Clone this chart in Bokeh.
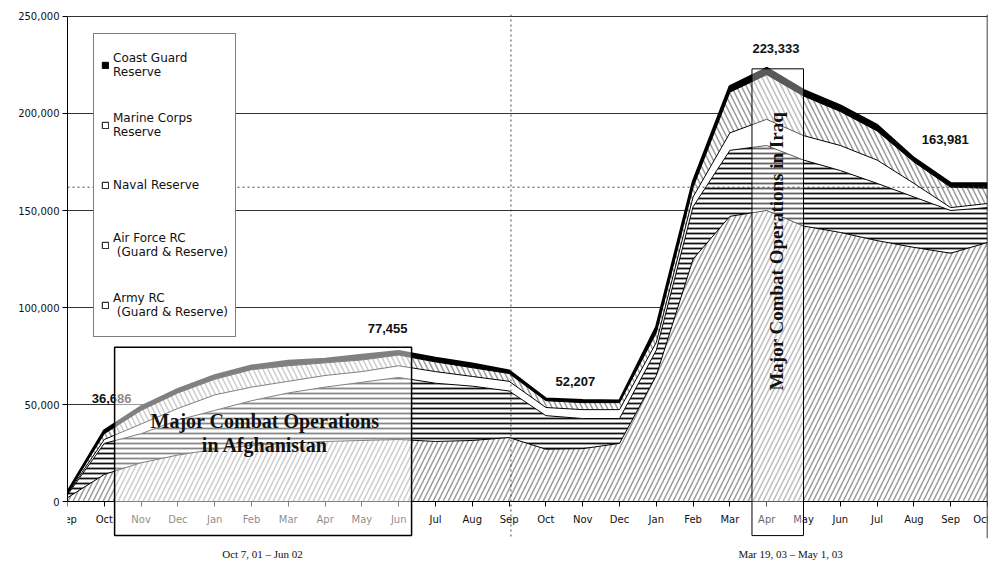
import numpy as np
from bokeh.plotting import figure
from bokeh.models import (Range1d, FixedTicker, NumeralTickFormatter, LinearAxis,
                          Span, Legend, LegendItem, ColumnDataSource)
from bokeh.embed import file_html
from bokeh.resources import INLINE
from bokeh.core.properties import value

# ---------------- data ----------------
months = ["Sep", "Oct", "Nov", "Dec", "Jan", "Feb", "Mar", "Apr", "May", "Jun", "Jul", "Aug",
          "Sep", "Oct", "Nov", "Dec", "Jan", "Feb", "Mar", "Apr", "May", "Jun", "Jul", "Aug",
          "Sep", "Oct"]

army = [2000, 14000, 20000, 24000, 27000, 29000, 30000, 31000, 31500, 32000, 31000, 31500,
        33000, 27000, 27300, 30000, 65000, 125000, 147000, 150000, 142000, 138700, 134500,
        131000, 128000, 133500]
air_force = [1500, 16000, 15000, 18000, 20000, 23000, 26000, 28000, 30000, 32000, 30000, 28000,
             24000, 17300, 15500, 12800, 13000, 27000, 34000, 33500, 34000, 31900, 29500,
             26000, 22000, 18000]
naval = [500, 2000, 5000, 6000, 8000, 7000, 6000, 6000, 5500, 6000, 6000, 5000,
         5000, 4200, 4600, 4600, 4000, 5000, 9000, 13500, 12600, 12900, 12000,
         7000, 1500, 2100]
marine = [500, 3000, 7000, 8000, 8000, 9000, 8000, 6500, 6000, 5500, 5000, 4500,
          4000, 3500, 3600, 3600, 5000, 5000, 21000, 23000, 20400, 17500, 15000,
          11000, 10500, 7900]
coast_guard = [500, 1686, 2000, 2000, 2000, 2000, 2500, 2000, 2500, 1955, 2000, 2000,
               1500, 1000, 1207, 1000, 3000, 3000, 3000, 3333, 3000, 3000, 3000,
               2000, 2000, 2481]

series_names = ["Army RC\n (Guard & Reserve)", "Air Force RC\n (Guard & Reserve)",
                "Naval Reserve", "Marine Corps\nReserve", "Coast Guard\nReserve"]

peak_labels = ["36,686", "77,455", "52,207", "223,333", "163,981"]
peak_month = [1.2, 8.7, 13.8, 19.25, 23.85]
peak_label_y = [53000, 89000, 62000, 233500, 186500]

afg_period = (1.28, 9.35)      # Oct 7, 01 - Jun 02 (month index)
iraq_period = (18.6, 20.0)     # Mar 19, 03 - May 1, 03
period_texts = {5.3: "Oct 7, 01 \u2013 Jun 02", 19.65: "Mar 19, 03 \u2013 May 1, 03"}

x = list(range(len(months)))
src = ColumnDataSource(dict(x=x, army=army, af=air_force, naval=naval,
                            marine=marine, cg=coast_guard))
cum = np.cumsum(np.array([army, air_force, naval, marine, coast_guard], dtype=float), axis=0)

# ---------------- figure ----------------
p = figure(width=990, height=564, output_backend="svg", toolbar_location=None,
           x_range=Range1d(0, len(months) - 1), y_range=Range1d(-19000, 251000),
           min_border_left=67, min_border_right=3, min_border_top=14, min_border_bottom=26)
p.outline_line_color = None
p.background_fill_color = "white"

yt = [0, 50000, 100000, 150000, 200000, 250000]
p.ygrid.ticker = FixedTicker(ticks=yt)
p.ygrid.grid_line_color = "#333333"
p.ygrid.grid_line_width = 1
p.xgrid.grid_line_color = None

# y axis
ya = p.yaxis[0]
ya.ticker = FixedTicker(ticks=yt)
ya.formatter = NumeralTickFormatter(format="0,0")
ya.bounds = (0, 250000)
ya.major_label_text_font = "DejaVu Sans"
ya.major_label_text_font_size = "10px"
ya.major_label_text_color = "#111111"
ya.major_tick_out = 5
ya.major_tick_in = 0
ya.minor_tick_line_color = None
ya.axis_line_color = "black"
ya.major_label_standoff = 3

# x axis at y=0
xa = p.xaxis[0]
xa.fixed_location = 0
xa.ticker = FixedTicker(ticks=x)
xa.major_label_overrides = {i: m for i, m in enumerate(months)}
xa.major_label_text_font = "DejaVu Sans"
xa.major_label_text_font_size = "10px"
xa.major_label_text_color = "#111111"
xa.major_tick_out = 5
xa.major_tick_in = 0
xa.minor_tick_line_color = None
xa.major_label_standoff = 7

# period labels axis
pa = LinearAxis(ticker=FixedTicker(ticks=list(period_texts.keys())),
                major_label_overrides=period_texts)
pa.axis_line_color = None
pa.major_tick_line_color = None
pa.minor_tick_line_color = None
pa.major_tick_out = 0
pa.major_tick_in = 0
pa.major_label_standoff = 9
pa.major_label_text_font = "Liberation Serif"
pa.major_label_text_font_size = "11px"
pa.major_label_text_color = "#111111"
p.add_layout(pa, "below")

# ---------------- stacked areas ----------------
p.varea_stack(stackers=["army", "af", "naval", "marine", "cg"], x="x", source=src,
              fill_color=["white", "white", "white", "white", "black"],
              hatch_pattern=["/", "-", " ", "\\", " "],
              hatch_color=["#9a9a9a", "#111111", "white", "#9a9a9a", "black"],
              hatch_scale=[10, 5, 7, 10, 7],
              hatch_weight=[1.5, 1.8, 1, 1.5, 1])

for k in range(5):
    p.line(x, cum[k], line_color="black", line_width=2.5 if k == 4 else 1)

# peak labels (under the boxes)
p.text(x=peak_month, y=peak_label_y, text=peak_labels, text_font=value("Liberation Sans"),
       text_font_style="bold", text_font_size="13px", text_align="center",
       text_baseline="middle", text_color="#111111")

# ---------------- boxes ----------------
p.quad(left=[afg_period[0]], right=[afg_period[1]], bottom=[-17500], top=[79500],
       fill_color="white", fill_alpha=0.5, line_color="black", line_width=1.5, level="overlay")
p.quad(left=[iraq_period[0]], right=[iraq_period[1]], bottom=[-17500], top=[223000],
       fill_color="white", fill_alpha=0.35, line_color="black", line_width=1, level="overlay")

# reference dotted lines
p.add_layout(Span(location=162000, dimension="width", line_color="#444444",
                  line_dash="2 3", line_width=1, level="overlay"))
p.add_layout(Span(location=12.05, dimension="height", line_color="#444444",
                  line_dash="2 3", line_width=1, level="overlay"))
p.add_layout(Span(location=len(months) - 1, dimension="height", line_color="black",
                  line_width=1.5))

# ---------------- texts ----------------
p.text(x=[(afg_period[0] + afg_period[1]) / 2 + 0.05], y=[35500],
       text=["Major Combat Operations\nin Afghanistan"], text_font=value("Liberation Serif"),
       text_font_style="bold", text_font_size="20px", text_align="center",
       text_baseline="middle", text_line_height=1.1, text_color="#111111", level="overlay")
p.text(x=[19.27], y=[129000], text=["Major Combat Operations in Iraq"],
       text_font=value("Liberation Serif"), text_font_style="bold", text_font_size="19px",
       text_align="center", text_baseline="middle", angle=np.pi / 2,
       text_color="#111111", level="overlay")

# ---------------- legend ----------------
legend_fill = ["white", "white", "white", "white", "black"]
items = []
for k in range(4, -1, -1):
    r = p.rect(x=[-100], y=[-1e7], width=1, height=1, fill_color=legend_fill[k],
               line_color="black", line_width=1)
    items.append(LegendItem(label=series_names[k], renderers=[r]))
legend = Legend(items=items, location=(26, 201))
legend.border_line_color = "black"
legend.border_line_width = 1
legend.background_fill_color = "white"
legend.background_fill_alpha = 1
legend.label_text_font = "DejaVu Sans"
legend.label_text_font_size = "12px"
legend.label_text_line_height = 1.33
legend.label_text_color = "#111111"
legend.glyph_width = 8
legend.glyph_height = 8
legend.label_standoff = 4
legend.padding = 7
legend.spacing = 12
legend.label_height = 48
legend.margin = 0
p.add_layout(legend)

open("out.html", "w").write(file_html(p, INLINE))
